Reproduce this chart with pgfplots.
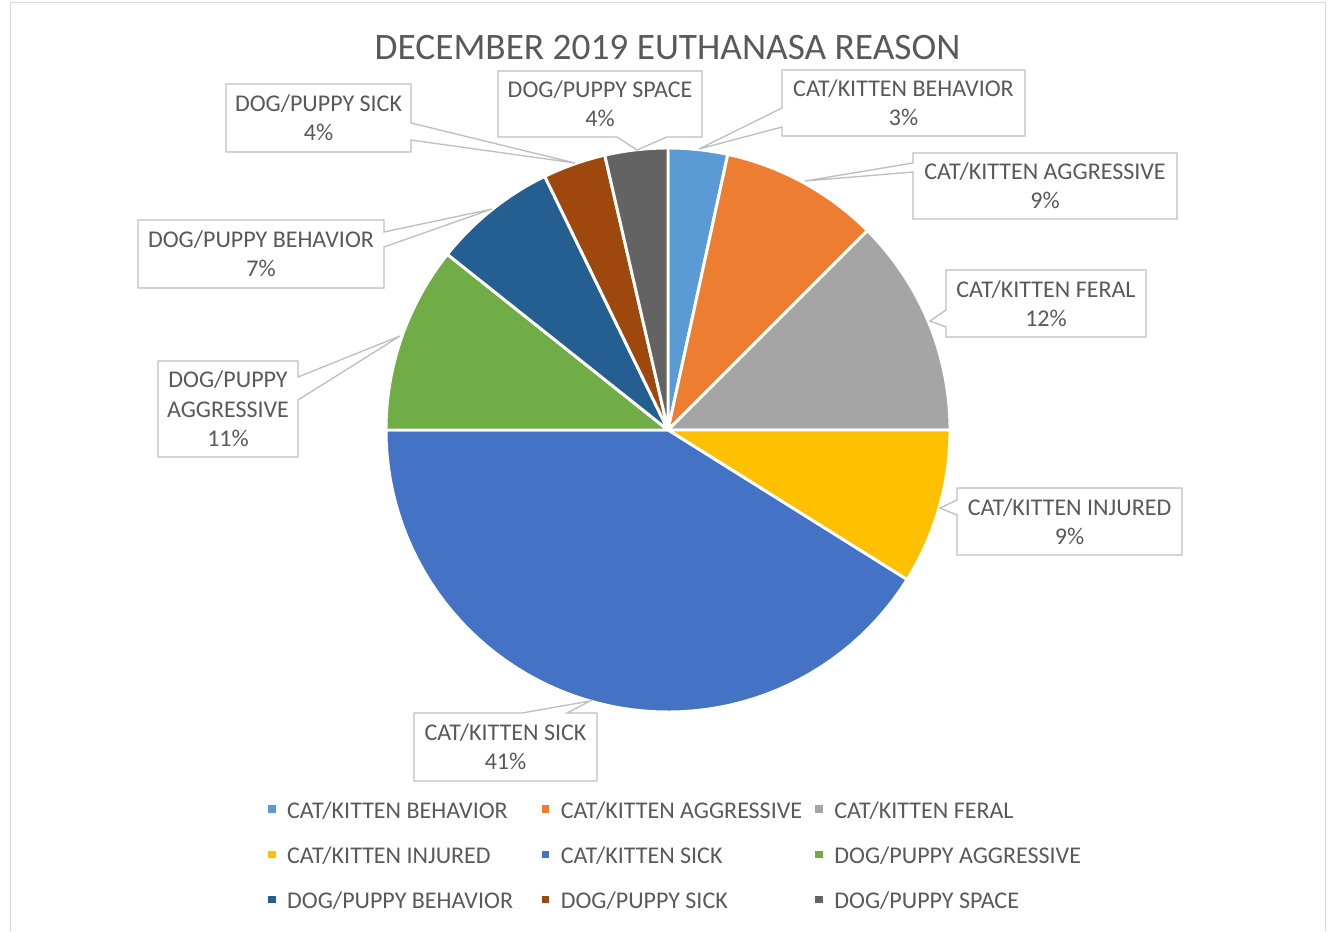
\documentclass[border=0pt]{standalone}
\usepackage{fontspec}
\setmainfont{Carlito}
\usepackage{pgfplots}
\usepackage{pgfplotstable}
\pgfplotsset{compat=1.18}
\definecolor{cA}{HTML}{5B9BD5}
\definecolor{cB}{HTML}{ED7D31}
\definecolor{cC}{HTML}{A5A5A5}
\definecolor{cD}{HTML}{FFC000}
\definecolor{cE}{HTML}{4472C4}
\definecolor{cF}{HTML}{70AD47}
\definecolor{cG}{HTML}{255E91}
\definecolor{cH}{HTML}{9E480E}
\definecolor{cI}{HTML}{636363}
\definecolor{tgray}{HTML}{595959}
\definecolor{bgray}{HTML}{BFBFBF}
\definecolor{fgray}{HTML}{D9D9D9}

% share of each reason, in percent (clockwise from 12 o'clock)
\pgfplotstableread{
pct
3.4
9.1
12.5
8.9
41.1
10.7
7.1
3.6
3.6
}\pietable

\newcommand\getang[3]{%
  \pgfplotstablegetelem{#1}{pct}\of\pietable
  \pgfmathsetmacro\tmpA{3.6*\cum}%
  \pgfmathsetmacro\tmpB{\cum+\pgfplotsretval}%
  \pgfmathsetmacro\tmpC{3.6*\tmpB}%
  \xdef#2{\tmpA}\xdef#3{\tmpC}\xdef\cum{\tmpB}}
\def\cum{0}
\getang{0}{\sa}{\ea}
\getang{1}{\sb}{\eb}
\getang{2}{\sc}{\ec}
\getang{3}{\sd}{\ed}
\getang{4}{\se}{\ee}
\getang{5}{\sf}{\ef}
\getang{6}{\sg}{\eg}
\getang{7}{\sh}{\eh}
\getang{8}{\si}{\ei}

\newcommand\lfont{\fontsize{18}{22}\selectfont}
\newcommand\lent[1]{\addlegendentry{\makebox[191pt][l]{\strut #1}}}

\begin{document}
\begin{tikzpicture}
\begin{axis}[
  scale only axis, width=997.5pt, height=698.25pt,
  xmin=0, xmax=1330, ymin=0, ymax=931, y dir=reverse,
  hide axis, clip=false,
  legend columns=3,
  legend cell align=left,
  legend image code/.code={\fill[#1,draw=none] (0pt,-2.8pt) rectangle (5.6pt,2.8pt);},
  legend style={draw=none, fill=none, inner sep=0pt, at={(axis cs:268,797.5)}, anchor=north west,
    font=\lfont, text=tgray, row sep=17pt, nodes={inner sep=0pt},
    /tikz/every odd column/.append style={column sep=8.6pt}},
  pie/.style={draw=white, line width=2.2pt, line join=round, samples=60, variable=\t},
]
\path (rel axis cs:0,0) rectangle (rel axis cs:1,1);
\draw[fgray, line width=1pt] (10.5,931) -- (10.5,2.5) -- (1325.5,2.5) -- (1325.5,931);

\addplot[pie, fill=cA, domain=\sa:\ea] ({668+282*sin(\t)},{430-282*cos(\t)}) -- (axis cs:668,430) -- cycle;
\lent{CAT/KITTEN BEHAVIOR}
\addplot[pie, fill=cB, domain=\sb:\eb] ({668+282*sin(\t)},{430-282*cos(\t)}) -- (axis cs:668,430) -- cycle;
\lent{CAT/KITTEN AGGRESSIVE}
\addplot[pie, fill=cC, domain=\sc:\ec] ({668+282*sin(\t)},{430-282*cos(\t)}) -- (axis cs:668,430) -- cycle;
\lent{CAT/KITTEN FERAL}
\addplot[pie, fill=cD, domain=\sd:\ed] ({668+282*sin(\t)},{430-282*cos(\t)}) -- (axis cs:668,430) -- cycle;
\lent{CAT/KITTEN INJURED}
\addplot[pie, fill=cE, domain=\se:\ee] ({668+282*sin(\t)},{430-282*cos(\t)}) -- (axis cs:668,430) -- cycle;
\lent{CAT/KITTEN SICK}
\addplot[pie, fill=cF, domain=\sf:\ef] ({668+282*sin(\t)},{430-282*cos(\t)}) -- (axis cs:668,430) -- cycle;
\lent{DOG/PUPPY AGGRESSIVE}
\addplot[pie, fill=cG, domain=\sg:\eg] ({668+282*sin(\t)},{430-282*cos(\t)}) -- (axis cs:668,430) -- cycle;
\lent{DOG/PUPPY BEHAVIOR}
\addplot[pie, fill=cH, domain=\sh:\eh] ({668+282*sin(\t)},{430-282*cos(\t)}) -- (axis cs:668,430) -- cycle;
\lent{DOG/PUPPY SICK}
\addplot[pie, fill=cI, domain=\si:\ei] ({668+282*sin(\t)},{430-282*cos(\t)}) -- (axis cs:668,430) -- cycle;
\lent{DOG/PUPPY SPACE}

\node[anchor=base, font=\fontsize{28}{34}\selectfont, text=tgray] at (axis cs:667.5,59) {DECEMBER 2019 EUTHANASA REASON};

\tikzset{callout/.style={draw=bgray, line width=1pt, fill=white, line join=miter},
         ctext/.style={text=tgray, align=center, font=\lfont, inner sep=0pt}}
% CAT/KITTEN BEHAVIOR
\draw[callout] (782,70) -- (1025,70) -- (1025,136) -- (782,136) -- (782,127) -- (699,149) -- (782,108) -- cycle;
\node[ctext] at (903.5,103) {CAT/KITTEN BEHAVIOR\\3\%};
% CAT/KITTEN AGGRESSIVE
\draw[callout] (913,153) -- (1177,153) -- (1177,219) -- (913,219) -- (913,172) -- (805,181) -- (913,163) -- cycle;
\node[ctext] at (1045,186) {CAT/KITTEN AGGRESSIVE\\9\%};
% CAT/KITTEN FERAL
\draw[callout] (946,270) -- (1146,270) -- (1146,337) -- (946,337) -- (946,327) -- (930,321) -- (946,310) -- cycle;
\node[ctext] at (1046,303.5) {CAT/KITTEN FERAL\\12\%};
% CAT/KITTEN INJURED
\draw[callout] (957,488) -- (1182,488) -- (1182,555) -- (957,555) -- (957,515) -- (940,508) -- (957,500) -- cycle;
\node[ctext] at (1069.5,521.5) {CAT/KITTEN INJURED\\9\%};
% CAT/KITTEN SICK
\draw[callout] (414,713) -- (522,713) -- (590,701) -- (567,713) -- (597,713) -- (597,781) -- (414,781) -- cycle;
\node[ctext] at (505.5,747) {CAT/KITTEN SICK\\41\%};
% DOG/PUPPY AGGRESSIVE
\draw[callout] (158,361) -- (298,361) -- (298,377) -- (400,336) -- (298,400) -- (298,457) -- (158,457) -- cycle;
\node[ctext] at (228,409) {DOG/PUPPY\\AGGRESSIVE\\11\%};
% DOG/PUPPY BEHAVIOR
\draw[callout] (138,220) -- (384,220) -- (384,232) -- (492,209) -- (384,247) -- (384,288) -- (138,288) -- cycle;
\node[ctext] at (261,254) {DOG/PUPPY BEHAVIOR\\7\%};
% DOG/PUPPY SICK
\draw[callout] (226,84) -- (411,84) -- (411,123) -- (575,163) -- (411,140) -- (411,152) -- (226,152) -- cycle;
\node[ctext] at (318.5,118) {DOG/PUPPY SICK\\4\%};
% DOG/PUPPY SPACE
\draw[callout] (498,71) -- (702,71) -- (702,137) -- (667,137) -- (637,150) -- (617,137) -- (498,137) -- cycle;
\node[ctext] at (600,104) {DOG/PUPPY SPACE\\4\%};
\end{axis}
\end{tikzpicture}
\end{document}
